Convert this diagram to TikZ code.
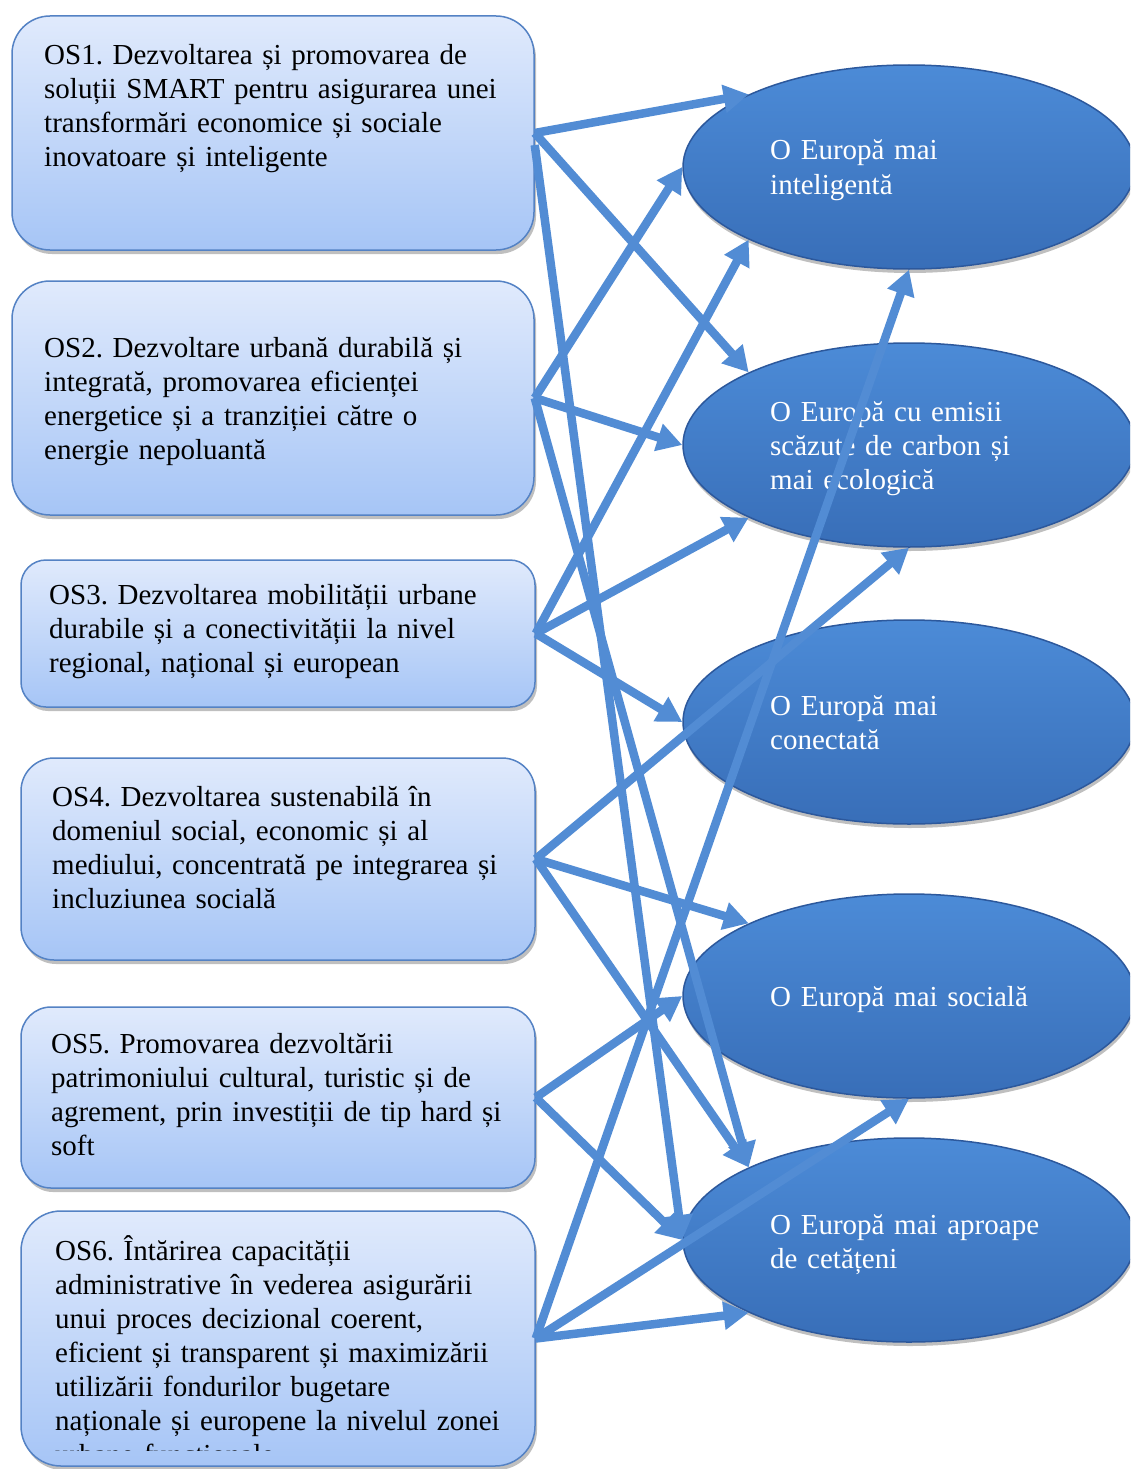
\documentclass[tikz,border=0pt]{standalone}
\usepackage{fontspec}
\setmainfont{Liberation Serif}
\frenchspacing
\usetikzlibrary{shapes.geometric,arrows.meta,shadows}
\definecolor{boxtop}{RGB}{224,234,252}
\definecolor{boxbot}{RGB}{166,197,246}
\definecolor{boxline}{RGB}{84,130,196}
\definecolor{elltop}{RGB}{76,139,215}
\definecolor{ellbot}{RGB}{56,110,184}
\definecolor{ellline}{RGB}{44,88,156}
\definecolor{linkblue}{RGB}{82,140,212}
\tikzset{
  osbox/.style={rectangle, draw=boxline, line width=1.5pt, top color=boxtop, bottom color=boxbot,
    inner sep=0pt, drop shadow={shadow xshift=2pt, shadow yshift=-4pt, opacity=0.25, fill=black}},
  goal/.style={ellipse, draw=ellline, line width=1.5pt, top color=elltop, bottom color=ellbot,
    minimum width=452pt, minimum height=204pt, inner sep=0pt,
    drop shadow={shadow xshift=1pt, shadow yshift=-4pt, opacity=0.25, fill=black}},
  ostext/.style={anchor=base west, inner sep=0pt, align=left, text width=495pt,
    font=\fontsize{29}{34}\selectfont\frenchspacing},
  goaltext/.style={ostext, text=white, text width=330pt},
  link/.style={draw=linkblue, line width=8.5pt, -{Triangle[length=25pt,width=27pt]}},
}
\begin{document}
\begin{tikzpicture}[x=1pt,y=-1pt]
\clip (0,0) rectangle (1130,1469);
\fill[white] (0,0) rectangle (1130,1469);
% boxes
\node[osbox, rounded corners=38pt, minimum width=522pt, minimum height=234pt] (os1) at (273,133) {};
\node[osbox, rounded corners=38pt, minimum width=522pt, minimum height=234pt] (os2) at (273,398) {};
\node[osbox, rounded corners=25pt, minimum width=514pt, minimum height=147pt] (os3) at (278,633.5) {};
\node[osbox, rounded corners=33pt, minimum width=514pt, minimum height=202pt] (os4) at (278,859) {};
\node[osbox, rounded corners=30pt, minimum width=514pt, minimum height=181pt] (os5) at (278,1097.5) {};
\node[osbox, rounded corners=40pt, minimum width=514pt, minimum height=255pt] (os6) at (278,1338.5) {};
% box texts
\node[ostext] (os1t) at (44,65) {OS1. Dezvoltarea și promovarea de\\soluții SMART pentru asigurarea unei\\transformări economice și sociale\\inovatoare și inteligente};
\node[ostext] (os2t) at (44,357) {OS2. Dezvoltare urbană durabilă și\\integrată, promovarea eficienței\\energetice și a tranziției către o\\energie nepoluantă};
\node[ostext] (os3t) at (49,604) {OS3. Dezvoltarea mobilității urbane\\durabile și a conectivității la nivel\\regional, național și european};
\node[ostext] (os4t) at (52,806) {OS4. Dezvoltarea sustenabilă în\\domeniul social, economic și al\\mediului, concentrată pe integrarea și\\incluziunea socială};
\node[ostext] (os5t) at (51,1053) {OS5. Promovarea dezvoltării\\patrimoniului cultural, turistic și de\\agrement, prin investiții de tip hard și\\soft};
\begin{scope}
\clip (0,0) rectangle (1130,1450);
\node[ostext] (os6t) at (55,1260) {OS6. Întărirea capacității\\administrative în vederea asigurării\\unui proces decizional coerent,\\eficient și transparent și maximizării\\utilizării fondurilor bugetare\\naționale și europene la nivelul zonei\\urbane funcționale};
\end{scope}
% goals
\node[goal] (e1) at (909,167) {};
\node[goal] (e2) at (909,445) {};
\node[goal] (e3) at (909,722) {};
\node[goal] (e4) at (909,996) {};
\node[goal] (e5) at (909,1240) {};
\node[goaltext] (e1t) at (770,160) {O Europă mai\\inteligentă};
\node[goaltext] (e2t) at (770,421) {O Europă cu emisii\\scăzute de carbon și\\mai ecologică};
\node[goaltext] (e3t) at (770,715) {O Europă mai\\conectată};
\node[goaltext] (e4t) at (770,1006) {O Europă mai socială};
\node[goaltext] (e5t) at (770,1234) {O Europă mai aproape\\de cetățeni};
% links
\draw[link] (os1.east) -- (e1.north west);
\draw[link] (os1.east) -- (e2.north west);
\draw[link] ([yshift=-12pt]os1.east) -- (e5.west);
\draw[link] (os2.east) -- (e1.west);
\draw[link] (os2.east) -- (e2.west);
\draw[link] (os2.east) -- (e5.north west);
\draw[link] (os3.east) -- (e1.south west);
\draw[link] (os3.east) -- (e2.south west);
\draw[link] (os3.east) -- (e3.west);
\draw[link] (os4.east) -- (e2.south);
\draw[link] (os4.east) -- (e4.north west);
\draw[link] (os4.east) -- (e5.north west);
\draw[link] (os5.east) -- (e4.west);
\draw[link] (os5.east) -- (e5.west);
\draw[link] (os6.east) -- (e1.south);
\draw[link] (os6.east) -- (e4.south);
\draw[link] (os6.east) -- (e5.south west);
\end{tikzpicture}
\end{document}
